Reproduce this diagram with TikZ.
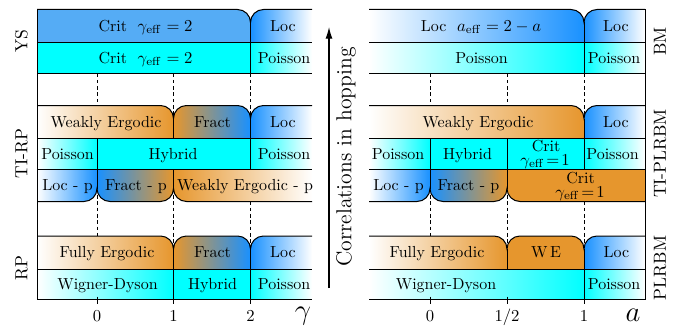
\documentclass[tikz,border=0pt]{standalone}
\usepackage{amsmath}
\usetikzlibrary{arrows.meta}
\definecolor{bC}{RGB}{85,172,245}
\definecolor{bG}{RGB}{25,145,255}
\definecolor{oR}{RGB}{230,150,45}
\definecolor{cY}{RGB}{0,255,255}
\tikzset{
  lbl/.style={font=\fontsize{9.6}{11}\selectfont, inner sep=0pt, text height=6.6pt, text depth=0pt},
  lbs/.style={font=\fontsize{9.6}{11}\selectfont, inner sep=0pt, text height=5pt, text depth=0pt},
  side/.style={font=\fontsize{10.5}{12}\selectfont, rotate=90, inner sep=0pt},
  bd/.style={line width=0.6pt},
  dsh/.style={line width=0.45pt, dash pattern=on 2.2pt off 1.6pt},
}
% top-rounded cell: x1 x2 ytop ybot rLeft rRight options
\newcommand\tcell[7]{\path[#7] (#1,#4) -- (#1,#3+#5) .. controls (#1,#3+0.448*#5) and (#1+0.448*#5,#3) .. (#1+#5,#3) -- (#2-#6,#3) .. controls (#2-0.448*#6,#3) and (#2,#3+0.448*#6) .. (#2,#3+#6) -- (#2,#4) -- cycle;}
% bottom-rounded cell
\newcommand\bcell[7]{\path[#7] (#1,#3) -- (#2,#3) -- (#2,#4-#6) .. controls (#2,#4-0.448*#6) and (#2-0.448*#6,#4) .. (#2-#6,#4) -- (#1+#5,#4) .. controls (#1+0.448*#5,#4) and (#1,#4-0.448*#5) .. (#1,#4-#5) -- cycle;}
% cusp segments for outlines (top / bottom)
\newcommand\cuspT[2]{-- (#1-\rc,#2) .. controls (#1-0.448*\rc,#2) and (#1,#2+0.448*\rc) .. (#1,#2+\rc) .. controls (#1,#2+0.448*\rc) and (#1+0.448*\rc,#2) .. (#1+\rc,#2)}
\newcommand\cuspB[2]{-- (#1-\rc,#2) .. controls (#1-0.448*\rc,#2) and (#1,#2-0.448*\rc) .. (#1,#2-\rc) .. controls (#1,#2-0.448*\rc) and (#1+0.448*\rc,#2) .. (#1+\rc,#2)}
\begin{document}
\begin{tikzpicture}[x=0.6pt,y=-0.6pt]
\useasboundingbox (0,0) rectangle (679,326);
\def\xL{37}\def\xa{97}\def\xb{173.5}\def\xc{250.5}\def\xR{312}
\def\ul{369}\def\ua{430}\def\ub{507}\def\uc{584}\def\ur{645}
\def\yA{9.5}\def\yB{42.5}\def\yC{73.5}\def\yD{105.5}\def\yE{138.5}\def\yF{169.5}\def\yG{201.5}\def\yH{236}\def\yI{269}\def\yJ{299.5}
\def\rc{13}
% dashed guide lines
\foreach \x in {\xa,\xb,\xc,\ua,\ub,\uc}{
  \draw[dsh] (\x,\yC) -- (\x,\yD+\rc);
  \draw[dsh] (\x,\yG-\rc) -- (\x,\yH+\rc);
}
% ===== LEFT PANEL =====
% YS
\tcell{\xL}{\xc}{\yA}{\yB}{0}{\rc}{fill=bC}
\tcell{\xc}{\xR}{\yA}{\yB}{\rc}{0}{left color=bG,right color=white}
\path[fill=cY] (\xL,\yB) rectangle (\xc,\yC);
\path[left color=cY,right color=white] (\xc,\yB) rectangle (\xR,\yC);
\draw[bd] (\xL,\yA) \cuspT{\xc}{\yA} -- (\xR,\yA);
\draw[bd] (\xc,\yA+\rc) -- (\xc,\yC);
\draw[bd] (\xL,\yB) -- (\xR,\yB) (\xL,\yC) -- (\xR,\yC);
% TI-RP
\tcell{\xL}{\xb}{\yD}{\yE}{0}{\rc}{left color=white,right color=oR}
\tcell{\xb}{\xc}{\yD}{\yE}{\rc}{\rc}{left color=oR,right color=bG}
\tcell{\xc}{\xR}{\yD}{\yE}{\rc}{0}{left color=bG,right color=white}
\path[left color=white,right color=cY] (\xL,\yE) rectangle (\xa,\yF);
\path[fill=cY] (\xa,\yE) rectangle (\xc,\yF);
\path[left color=cY,right color=white] (\xc,\yE) rectangle (\xR,\yF);
\bcell{\xL}{\xa}{\yF}{\yG}{0}{\rc}{left color=white,right color=bG}
\bcell{\xa}{\xb}{\yF}{\yG}{\rc}{\rc}{left color=bG,right color=oR}
\bcell{\xb}{\xR}{\yF}{\yG}{\rc}{0}{left color=oR,right color=white}
\draw[bd] (\xL,\yD) \cuspT{\xb}{\yD} \cuspT{\xc}{\yD} -- (\xR,\yD);
\draw[bd] (\xb,\yD+\rc) -- (\xb,\yE) (\xc,\yD+\rc) -- (\xc,\yF) (\xa,\yE) -- (\xa,\yG-\rc) (\xb,\yF) -- (\xb,\yG-\rc);
\draw[bd] (\xL,\yE) -- (\xR,\yE) (\xL,\yF) -- (\xR,\yF);
\draw[bd] (\xL,\yG) \cuspB{\xa}{\yG} \cuspB{\xb}{\yG} -- (\xR,\yG);
% RP
\tcell{\xL}{\xb}{\yH}{\yI}{0}{\rc}{left color=white,right color=oR}
\tcell{\xb}{\xc}{\yH}{\yI}{\rc}{\rc}{left color=oR,right color=bG}
\tcell{\xc}{\xR}{\yH}{\yI}{\rc}{0}{left color=bG,right color=white}
\path[left color=white,right color=cY] (\xL,\yI) rectangle (\xb,\yJ);
\path[fill=cY] (\xb,\yI) rectangle (\xc,\yJ);
\path[left color=cY,right color=white] (\xc,\yI) rectangle (\xR,\yJ);
\draw[bd] (\xL,\yH) \cuspT{\xb}{\yH} \cuspT{\xc}{\yH} -- (\xR,\yH);
\draw[bd] (\xb,\yH+\rc) -- (\xb,\yJ+4) (\xc,\yH+\rc) -- (\xc,\yJ+4) (\xa,\yJ-3) -- (\xa,\yJ+4);
\draw[bd] (\xL,\yI) -- (\xR,\yI) (\xL,\yJ) -- (\xR,\yJ);
\draw[bd] (\xL,\yA) -- (\xL,\yJ);
% ===== RIGHT PANEL =====
% BM
\tcell{\ul}{\uc}{\yA}{\yB}{0}{\rc}{left color=white,right color=bG}
\tcell{\uc}{\ur}{\yA}{\yB}{\rc}{0}{left color=bG,right color=white}
\path[left color=white,right color=cY] (\ul,\yB) rectangle (\uc,\yC);
\path[left color=cY,right color=white] (\uc,\yB) rectangle (\ur,\yC);
\draw[bd] (\ul,\yA) \cuspT{\uc}{\yA} -- (\ur,\yA);
\draw[bd] (\uc,\yA+\rc) -- (\uc,\yC);
\draw[bd] (\ul,\yB) -- (\ur,\yB) (\ul,\yC) -- (\ur,\yC);
% TI-PLRBM
\tcell{\ul}{\uc}{\yD}{\yE}{0}{\rc}{left color=white,right color=oR}
\tcell{\uc}{\ur}{\yD}{\yE}{\rc}{0}{left color=bG,right color=white}
\path[left color=white,right color=cY] (\ul,\yE) rectangle (\ua,\yF);
\path[fill=cY] (\ua,\yE) rectangle (\uc,\yF);
\path[left color=cY,right color=white] (\uc,\yE) rectangle (\ur,\yF);
\bcell{\ul}{\ua}{\yF}{\yG}{0}{\rc}{left color=white,right color=bG}
\bcell{\ua}{\ub}{\yF}{\yG}{\rc}{\rc}{left color=bG,right color=oR}
\bcell{\ub}{\ur}{\yF}{\yG}{\rc}{0}{fill=oR}
\draw[bd] (\ul,\yD) \cuspT{\uc}{\yD} -- (\ur,\yD);
\draw[bd] (\uc,\yD+\rc) -- (\uc,\yF) (\ua,\yE) -- (\ua,\yG-\rc) (\ub,\yE) -- (\ub,\yG-\rc);
\draw[bd] (\ul,\yE) -- (\ur,\yE) (\ul,\yF) -- (\ur,\yF);
\draw[bd] (\ul,\yG) \cuspB{\ua}{\yG} \cuspB{\ub}{\yG} -- (\ur,\yG);
% PLRBM
\tcell{\ul}{\ub}{\yH}{\yI}{0}{\rc}{left color=white,right color=oR}
\tcell{\ub}{\uc}{\yH}{\yI}{\rc}{\rc}{fill=oR}
\tcell{\uc}{\ur}{\yH}{\yI}{\rc}{0}{left color=bG,right color=white}
\path[left color=white,right color=cY] (\ul,\yI) rectangle (\uc,\yJ);
\path[left color=cY,right color=white] (\uc,\yI) rectangle (\ur,\yJ);
\draw[bd] (\ul,\yH) \cuspT{\ub}{\yH} \cuspT{\uc}{\yH} -- (\ur,\yH);
\draw[bd] (\ub,\yH+\rc) -- (\ub,\yI) (\uc,\yH+\rc) -- (\uc,\yJ+4) (\ua,\yJ-3) -- (\ua,\yJ+4) (\ub,\yJ-3) -- (\ub,\yJ+4);
\draw[bd] (\ul,\yI) -- (\ur,\yI) (\ul,\yJ) -- (\ur,\yJ);
\draw[bd] (\ur,\yA) -- (\ur,\yJ);
% ===== TEXTS LEFT =====
\node[lbl] (t1) at (145.5,26) {Crit\ \ $\gamma_{\mathrm{eff}}=2$};
\node[lbl] (t2) at (283,26) {Loc};
\node[lbl] (t3) at (145.5,58) {Crit\ \ $\gamma_{\mathrm{eff}}=2$};
\node[lbl] (t4) at (284,58) {Poisson};
\node[lbl] (t5) at (106,122) {Weakly Ergodic};
\node[lbl] (t6) at (212.5,122) {Fract};
\node[lbl] (t7) at (283,122) {Loc};
\node[lbl] (t8) at (67.5,154) {Poisson};
\node[lbl] (t9) at (173,154) {Hybrid};
\node[lbl] (t10) at (284,154) {Poisson};
\node[lbl] (t11) at (67.5,185) {Loc - p};
\node[lbl] (t12) at (136,185) {Fract - p};
\node[lbl] (t13) at (245,185) {Weakly Ergodic - p};
\node[lbl] (t14) at (107,252) {Fully Ergodic};
\node[lbl] (t15) at (212.5,252) {Fract};
\node[lbl] (t16) at (283,252) {Loc};
\node[lbl] (t17) at (107.5,284) {Wigner-Dyson};
\node[lbl] (t18) at (212.5,284) {Hybrid};
\node[lbl] (t19) at (284,284) {Poisson};
% ===== TEXTS RIGHT =====
\node[lbl] (r1) at (481,26) {Loc\ \ $a_{\mathrm{eff}}=2-a$};
\node[lbl] (r2) at (616,26) {Loc};
\node[lbl] (r3) at (481.5,58) {Poisson};
\node[lbl] (r4) at (614,58) {Poisson};
\node[lbl] (r5) at (478,122) {Weakly Ergodic};
\node[lbl] (r6) at (616,122) {Loc};
\node[lbl] (r7) at (398,154) {Poisson};
\node[lbl] (r8) at (467.5,154) {Hybrid};
\node[lbs] (r9a) at (546,147) {Crit};
\node[lbs] (r9b) at (545,161) {$\gamma_{\mathrm{eff}}\!=\!1$};
\node[lbl] (r10) at (612.5,154) {Poisson};
\node[lbl] (r11) at (398.5,185) {Loc - p};
\node[lbl] (r12) at (468.5,185) {Fract - p};
\node[lbs] (r13a) at (580.5,179) {Crit};
\node[lbs] (r13b) at (580,193) {$\gamma_{\mathrm{eff}}\!=\!1$};
\node[lbl] (r14) at (437,252) {Fully Ergodic};
\node[lbl] (r15) at (546,252) {W\,E};
\node[lbl] (r16) at (616.5,252) {Loc};
\node[lbl] (r17) at (446,284) {Wigner-Dyson};
\node[lbl] (r18) at (614,284) {Poisson};
% tick labels
\node[lbl] (k0) at (\xa,316) {$0$};
\node[lbl] (k1) at (\xb,316) {$1$};
\node[lbl] (k2) at (\xc,316) {$2$};
\node[lbl] (q0) at (\ua,316) {$0$};
\node[lbl] (q1) at (\ub,316) {$1/2$};
\node[lbl] (q2) at (\uc,316) {$1$};
\node[inner sep=0pt, font=\LARGE] (gam) at (303,316) {$\gamma$};
\node[inner sep=0pt, font=\LARGE] (aa) at (633,315) {$a$};
% side labels
\node[side] (s1) at (21.5,41.5) {YS};
\node[side] (s2) at (21.5,153.5) {TI-RP};
\node[side] (s3) at (21.5,268) {RP};
\node[side] (s4) at (660,41.5) {BM};
\node[side] (s5) at (660,153.5) {TI-PLRBM};
\node[side] (s6) at (660,268) {PLRBM};
% middle arrow
\coordinate (arB) at (329,288);
\coordinate (arT) at (329,27);
\draw[line width=0.7pt,-{Latex[length=7pt,width=4.2pt]}] (arB) -- (arT);
\node[rotate=90, inner sep=0pt, font=\fontsize{13}{15}\selectfont] (corr) at (346,157) {Correlations in hopping};
\end{tikzpicture}
\end{document}
